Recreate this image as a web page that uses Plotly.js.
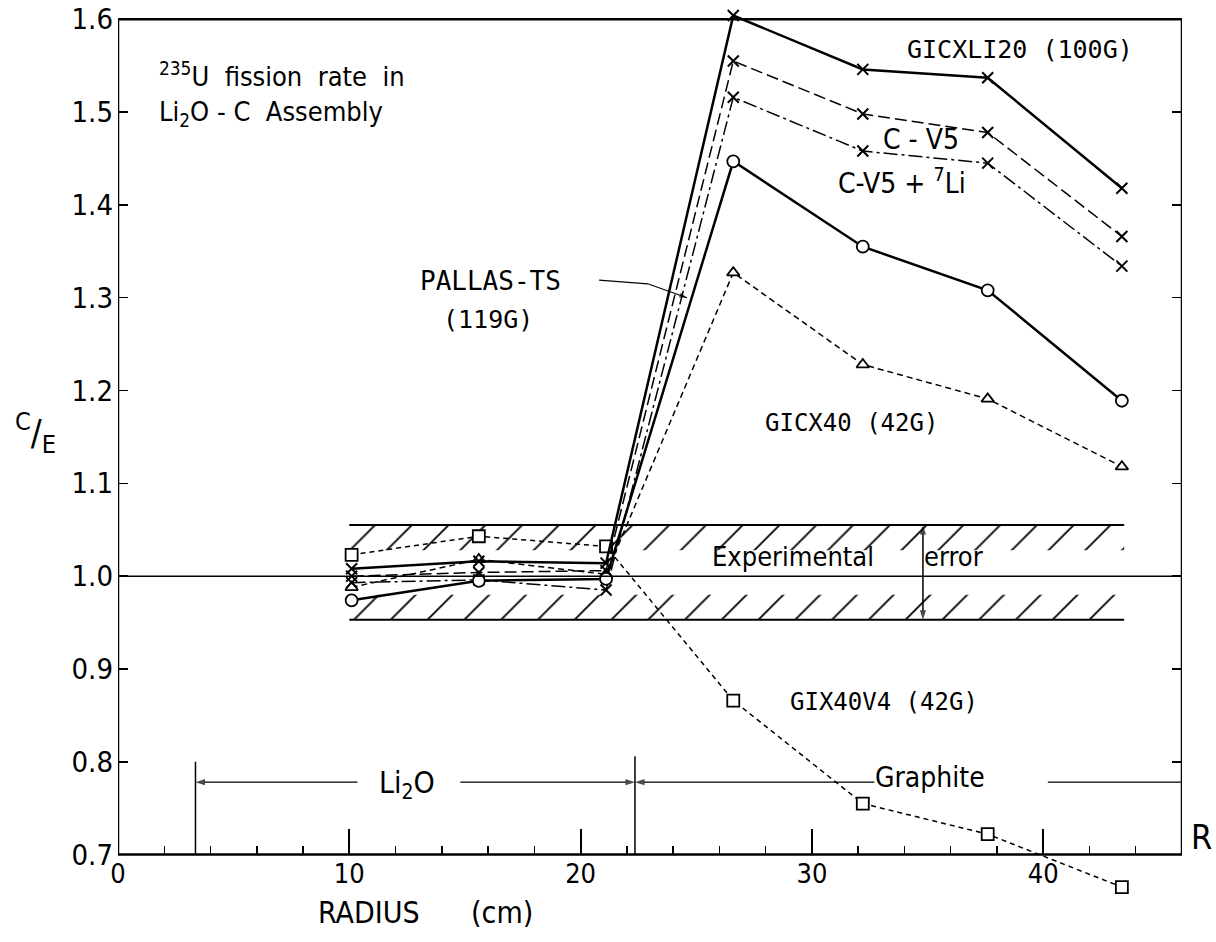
<!DOCTYPE html>
<html><head><meta charset="utf-8">
<script src="https://cdn.plot.ly/plotly-3.0.1.min.js"></script>
<style>html,body{margin:0;padding:0;background:#fff}#chart{width:1216px;height:942px}</style>
</head><body><div id="chart"></div>
<script>
// ---- data ----
const radius    = [10.1, 15.6, 21.1, 26.6, 32.2, 37.6, 43.4];
const gicxli20  = [1.008, 1.016, 1.014, 1.604, 1.546, 1.537, 1.418];
const cv5       = [1.000, 1.004, 1.006, 1.555, 1.498, 1.478, 1.366];
const cv5li7    = [0.993, 0.996, 0.985, 1.516, 1.458, 1.445, 1.334];
const pallasTS  = [0.974, 0.995, 0.997, 1.447, 1.355, 1.308, 1.189];
const gicx40    = [0.988, 1.018, 1.002, 1.327, 1.228, 1.191, 1.118];
const gix40v4   = [1.023, 1.043, 1.032, 0.866, 0.755, 0.722, 0.665];

const xRange = [0, 46];
const yRange = [0.65, 1.61];
const frameY = [0.7, 1.6];
const yTicks = [0.7, 0.8, 0.9, 1.0, 1.1, 1.2, 1.3, 1.4, 1.5, 1.6];
const xTicks = [0, 10, 20, 30, 40];
const refValue = 1.0;
const bandX = [10.0, 43.5];
const bandUpper = [1.028, 1.055];
const bandLower = [0.953, 0.980];
const errorX = 34.8;
const regionX = [3.35, 22.35];
const regionTop = [0.800, 0.806];
const arrowY = 0.778;
const li2oTextEdges = [10.35, 14.8];
const graphiteEdges = [32.7, 40.2];
const pallasLeaderX = [20.8, 22.9, 24.6];
const pallasLeaderY = [1.319, 1.315, 1.300];

const NARROW = 'DejaVu Sans Condensed, Liberation Sans Narrow, DejaVu Sans, sans-serif';
const MONO = 'DejaVu Sans Mono, Liberation Mono, monospace';

function series(name, y, dash, width, symbol, size) {
  const isX = symbol === 'x-thin';
  return {
    type: 'scatter', mode: 'lines+markers', name: name,
    x: radius, y: y, cliponaxis: false,
    line: {color: '#000', width: width, dash: dash},
    marker: isX ? {symbol: 'x-thin', size: size, color: '#000', line: {color: '#000', width: 2}}
                : {symbol: symbol, size: size, color: '#fff', line: {color: '#000', width: 1.8}},
    hoverinfo: 'skip'
  };
}

function band(yPair) {
  return {
    type: 'scatter', mode: 'lines', hoverinfo: 'skip', showlegend: false,
    x: [bandX[0], bandX[1], bandX[1], bandX[0], bandX[0]],
    y: [yPair[0], yPair[0], yPair[1], yPair[1], yPair[0]],
    fill: 'toself', fillcolor: 'rgba(0,0,0,0)',
    fillpattern: {shape: '/', size: 26, solidity: 0.07, fgcolor: '#000', bgcolor: 'rgba(0,0,0,0)'},
    line: {width: 0, color: 'rgba(0,0,0,0)'}
  };
}

function arrowTrace(xs, ys, size, width) {
  const sizes = xs.map((_, i) => i === xs.length - 1 ? size : 0);
  return {
    type: 'scatter', mode: 'lines+markers', x: xs, y: ys, cliponaxis: false, hoverinfo: 'skip',
    line: {color: '#000', width: width},
    marker: {symbol: 'arrow', angleref: 'previous', size: sizes, color: '#000', line: {width: 0}}
  };
}

const traces = [
  band(bandUpper),
  band(bandLower),
  {type:'scatter', mode:'lines', x: bandX, y: [bandUpper[1], bandUpper[1]], line:{color:'#000', width:2}, hoverinfo:'skip'},
  {type:'scatter', mode:'lines', x: bandX, y: [bandLower[0], bandLower[0]], line:{color:'#000', width:2}, hoverinfo:'skip'},
  arrowTrace([errorX, errorX], [refValue, bandUpper[1]], 10, 1.5),
  arrowTrace([errorX, errorX], [refValue, bandLower[0]], 10, 1.5),
  arrowTrace([li2oTextEdges[0], regionX[0]], [arrowY, arrowY], 10, 1.2),
  arrowTrace([li2oTextEdges[1], regionX[1]], [arrowY, arrowY], 10, 1.2),
  arrowTrace([graphiteEdges[0], regionX[1]], [arrowY, arrowY], 10, 1.2),
  arrowTrace(pallasLeaderX, pallasLeaderY, 8, 1.2),
  series('GIX40V4 (42G)', gix40v4, '5px,4px', 1.5, 'square', 12),
  series('GICX40 (42G)', gicx40, '6px,4px', 1.5, 'triangle-up', 11),
  series('C-V5+7Li', cv5li7, '14px,4px,3px,4px', 1.5, 'x-thin', 11),
  series('C-V5', cv5, '12px,5px', 1.5, 'x-thin', 11),
  series('PALLAS-TS (119G)', pallasTS, 'solid', 2.5, 'circle', 12),
  series('GICXLI20 (100G)', gicxli20, 'solid', 2.5, 'x-thin', 11)
];

const xPos = (frameY[0] - yRange[0]) / (yRange[1] - yRange[0]);

const shapes = [
  {type:'rect', xref:'x', yref:'y', x0:xRange[0], x1:xRange[1], y0:frameY[0], y1:frameY[1], line:{color:'#000', width:2.5}, layer:'above'},
  {type:'line', xref:'x', yref:'y', x0:xRange[0], x1:xRange[1], y0:refValue, y1:refValue, line:{color:'#000', width:1.5}},
  {type:'line', xref:'x', yref:'y', x0:regionX[0], x1:regionX[0], y0:frameY[0], y1:regionTop[0], line:{color:'#000', width:1.5}},
  {type:'line', xref:'x', yref:'y', x0:regionX[1], x1:regionX[1], y0:frameY[0], y1:regionTop[1], line:{color:'#000', width:1.5}},
  {type:'line', xref:'x', yref:'y', x0:graphiteEdges[1], x1:xRange[1], y0:arrowY, y1:arrowY, line:{color:'#000', width:1.2}}
];

function label(text, x, y, size, family, anchor) {
  return {xref:'x', yref:'y', x:x, y:y, text:text, showarrow:false,
          xanchor: anchor || 'center', yanchor:'middle',
          font:{family: family || NARROW, size:size, color:'#000'}};
}
function paperLabel(text, x, y, size, anchor) {
  return {xref:'paper', yref:'paper', x:x, y:y, text:text, showarrow:false,
          xanchor: anchor || 'center', yanchor:'middle',
          font:{family: NARROW, size:size, color:'#000'}};
}

const annotations = [
  label('<sup>235</sup>U  fission  rate  in', 1.7, 1.541, 27, NARROW, 'left'),
  label('Li<sub>2</sub>O - C  Assembly', 1.7, 1.499, 27, NARROW, 'left'),
  label('GICXLI20 (100G)', 39.0, 1.567, 25, MONO),
  label('C - V5', 34.7, 1.471, 28, NARROW),
  label('C-V5 + <sup>7</sup>Li', 33.9, 1.425, 28, NARROW),
  label('PALLAS-TS', 16.1, 1.318, 26, MONO),
  label('(119G)', 16.0, 1.277, 25, MONO),
  label('GICX40 (42G)', 31.7, 1.165, 24, MONO),
  label('GIX40V4 (42G)', 33.1, 0.864, 24, MONO),
  label('Experimental', 29.2, 1.021, 27, NARROW),
  label('error', 36.1, 1.021, 27, NARROW),
  label('Li<sub>2</sub>O', 12.5, 0.775, 30, NARROW),
  label('Graphite', 35.1, 0.783, 28, NARROW),
  paperLabel('RADIUS      (cm)', 0.289, -0.013, 30),
  paperLabel('R', 1.007, 0.072, 34, 'left'),
  paperLabel('<sup>C</sup>/<sub>E</sub>', -0.078, 0.525, 36)
];

const layout = {
  width: 1216, height: 942,
  margin: {l:118, r:34, t:10, b:41},
  paper_bgcolor:'#fff', plot_bgcolor:'#fff',
  showlegend:false,
  xaxis: {
    range: xRange, anchor:'free', position: xPos,
    showgrid:false, zeroline:false, showline:false,
    tickmode:'array', tickvals: xTicks, ticktext: xTicks.map(String),
    ticks:'inside', ticklen:26, tickwidth:2, tickcolor:'#000', ticklabelstandoff: 0,
    minor: {tickmode:'linear', tick0:0, dtick:2, ticks:'inside', ticklen:9, tickwidth:1.5, tickcolor:'#000', showgrid:false},
    tickfont:{family:NARROW, size:27, color:'#000'}
  },
  yaxis: {
    range: yRange, domain:[0,1],
    showgrid:false, zeroline:false, showline:false, mirror:'ticks',
    tickmode:'array', tickvals: yTicks, ticktext: yTicks.map(v => v.toFixed(1)),
    ticks:'inside', ticklen:10, tickwidth:1.5, tickcolor:'#000', ticklabelstandoff: 4,
    tickfont:{family:NARROW, size:29, color:'#000'}
  },
  shapes: shapes,
  annotations: annotations
};

Plotly.newPlot('chart', traces, layout, {displayModeBar:false, staticPlot:true});
</script></body></html>
